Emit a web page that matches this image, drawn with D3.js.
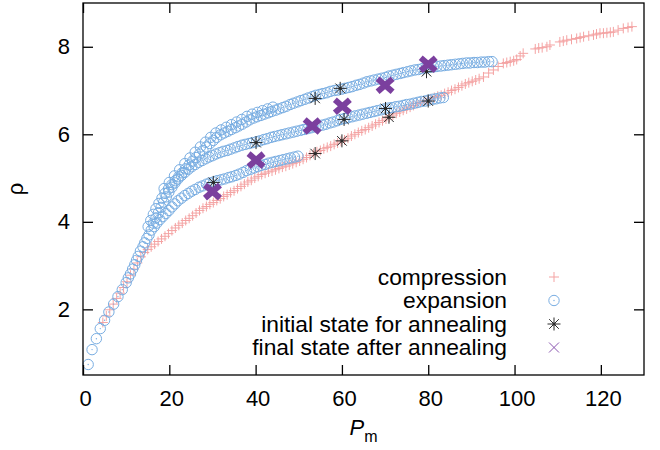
<!DOCTYPE html>
<html>
<head>
<meta charset="utf-8">
<script src="https://cdn.jsdelivr.net/npm/d3@7"></script>
<style>
  body { margin: 0; background: #fff; }
  text { font-family: "Liberation Sans", Arial, Helvetica, sans-serif; }
</style>
</head>
<body>
<div id="chart"></div>
<script>
// [Pm, rho] pairs
const compression = [
  [4.6,1.70],[5.4,1.85],[6.2,1.99],[7.0,2.12],[7.8,2.25],[8.6,2.37],[9.4,2.50],[10.2,2.63],[11.0,2.78],
  [11.8,2.92],[12.6,3.06],[13.4,3.20],[14.2,3.30],[15.0,3.37],[15.8,3.43],[16.6,3.49],[17.4,3.55],[18.2,3.61],
  [19.0,3.67],[19.8,3.73],[20.6,3.80],[21.4,3.86],[22.2,3.92],[23.0,3.97],[23.8,4.03],[24.6,4.08],[25.4,4.14],
  [26.2,4.20],[27.0,4.26],[27.8,4.31],[28.6,4.35],[29.4,4.40],[30.2,4.44],[31.0,4.49],[31.8,4.53],[32.6,4.58],
  [33.4,4.62],[34.2,4.67],[35.0,4.71],[35.8,4.76],[36.6,4.81],[37.4,4.86],[38.2,4.91],[39.0,4.95],[39.8,5.00],
  [40.6,5.04],[41.4,5.08],[42.2,5.11],[43.0,5.14],[43.8,5.16],[44.6,5.19],[45.4,5.22],[46.2,5.25],[47.0,5.27],
  [47.8,5.30],[48.6,5.33],[49.4,5.36],[50.2,5.39],[51.0,5.43],[51.8,5.47],[52.6,5.52],[53.4,5.56],[54.2,5.60],
  [55.0,5.63],[55.8,5.67],[56.6,5.70],[57.4,5.73],[58.2,5.77],[59.0,5.80],[59.8,5.84],[60.6,5.87],[61.4,5.91],
  [62.2,5.96],[63.0,6.00],[63.8,6.04],[64.6,6.08],[65.4,6.11],[66.2,6.15],[67.0,6.19],[67.8,6.23],[68.6,6.27],
  [69.4,6.31],[70.2,6.35],[71.0,6.39],[71.8,6.44],[72.6,6.48],[73.4,6.51],[74.2,6.55],[75.0,6.58],[75.8,6.62],
  [76.6,6.66],[77.4,6.70],[78.2,6.73],[79.0,6.76],[79.8,6.78],[80.6,6.81],[81.4,6.84],[82.2,6.87],[83.0,6.89],
  [83.8,6.93],[84.6,6.96],[85.4,7.00],[86.2,7.03],[87.0,7.07],[87.8,7.11],[88.6,7.15],[89.4,7.18],[90.2,7.21],
  [91.0,7.24],[91.8,7.27],[92.8,7.31],[94.0,7.40],[95.1,7.47],[96.2,7.55],[97.4,7.62],[98.2,7.64],[99.0,7.66],
  [99.8,7.68],[100.5,7.71],[101.3,7.79],[102.0,7.85],[104.8,7.95],[105.6,7.97],[106.4,7.98],[107.5,8.00],
  [108.2,8.04],[110.5,8.11],[111.3,8.13],[112.1,8.15],[113.2,8.17],[114.4,8.19],[115.2,8.21],[116.0,8.23],
  [117.2,8.25],[118.3,8.27],[119.0,8.29],[119.8,8.31],[120.6,8.31],[121.4,8.32],[122.2,8.33],[122.9,8.34],
  [124.0,8.38],[125.2,8.42],[126.3,8.44],[127.2,8.46]
];

const expansionUpper = [
  [94.8,7.66],[94.0,7.66],[93.1,7.65],[92.3,7.65],[91.4,7.64],[90.6,7.64],[89.7,7.63],[88.9,7.63],[88.0,7.62],
  [87.2,7.61],[86.3,7.60],[85.4,7.59],[84.6,7.58],[83.7,7.57],[82.9,7.56],[82.0,7.55],[81.2,7.54],[80.3,7.53],
  [79.5,7.52],[78.6,7.50],[77.7,7.48],[76.9,7.47],[76.0,7.45],[75.2,7.43],[74.3,7.41],[73.5,7.39],[72.6,7.37],
  [71.8,7.35],[70.9,7.33],[70.1,7.30],[69.2,7.28],[68.4,7.26],[67.5,7.24],[66.7,7.22],[65.8,7.20],[65.0,7.17],
  [64.1,7.14],[63.3,7.12],[62.4,7.09],[61.6,7.07],[60.7,7.05],[59.9,7.03],[59.0,7.01],[58.2,7.00],[57.3,6.98],
  [56.5,6.95],[55.6,6.93],[54.8,6.91],[53.9,6.89],[53.1,6.86],[52.2,6.83],[51.4,6.80],[50.5,6.77],[49.7,6.74],
  [48.8,6.71],[48.0,6.68],[47.1,6.64],[46.3,6.61],[45.4,6.58],[44.6,6.55],[43.7,6.52],[42.9,6.49],[42.0,6.46],
  [41.2,6.43],[40.3,6.40],[39.5,6.37],[38.6,6.33],[37.8,6.28],[36.9,6.23],[36.1,6.19],[35.3,6.15],[34.4,6.11],
  [33.6,6.07],[32.7,6.03],[31.9,5.99],[31.0,5.93],[30.2,5.86],[29.4,5.79],[28.6,5.71],[27.8,5.63],[27.0,5.55],
  [26.2,5.47],[25.4,5.39],[24.6,5.30],[23.8,5.21],[23.0,5.12],[22.2,5.03],[21.4,4.94],[20.6,4.85],[19.8,4.75],
  [19.0,4.65],[18.3,4.54],[17.6,4.42],[16.9,4.30],[16.3,4.17],[15.7,4.03],[15.1,3.89],
  [44.0,6.62],[42.8,6.58],[41.6,6.54],[40.4,6.50],[39.2,6.46],[38.0,6.41],[36.8,6.34],[35.6,6.28],[34.4,6.22],
  [33.2,6.16],[32.0,6.10],[30.8,6.03],[29.6,5.93],[28.4,5.82],[27.2,5.71],[26.0,5.59],[24.8,5.46],[23.6,5.33],
  [22.4,5.19],[21.2,5.05],[20.0,4.90],[18.8,4.76]
];

const expansionMiddle = [
  [83.5,6.84],[82.7,6.83],[81.8,6.81],[81.0,6.80],[80.1,6.78],[79.3,6.76],[78.4,6.75],[77.6,6.73],[76.7,6.71],
  [75.9,6.69],[75.0,6.68],[74.2,6.66],[73.3,6.64],[72.5,6.63],[71.6,6.61],[70.8,6.60],[69.9,6.58],[69.1,6.56],
  [68.2,6.54],[67.4,6.52],[66.5,6.50],[65.7,6.48],[64.8,6.46],[64.0,6.44],[63.1,6.42],[62.3,6.40],[61.4,6.38],
  [60.6,6.36],[59.7,6.34],[58.9,6.31],[58.0,6.28],[57.2,6.26],[56.3,6.23],[55.5,6.21],[54.6,6.19],[53.8,6.17],
  [52.9,6.15],[52.1,6.13],[51.2,6.11],[50.4,6.09],[49.5,6.07],[48.7,6.05],[47.8,6.03],[47.0,6.01],[46.1,5.99],
  [45.3,5.97],[44.4,5.95],[43.6,5.93],[42.7,5.90],[41.9,5.88],[41.0,5.85],[40.2,5.83],[39.3,5.81],[38.5,5.79],
  [37.6,5.77],[36.8,5.75],[35.9,5.72],[35.1,5.69],[34.2,5.66],[33.4,5.63],[32.5,5.61],[31.7,5.58],[30.8,5.55],
  [30.0,5.51],[29.2,5.48],[28.4,5.44],[27.6,5.40],[26.8,5.36],[26.0,5.31],[25.2,5.26],[24.4,5.20],[23.6,5.13],
  [22.8,5.06],[22.0,4.98],[21.3,4.89],[20.6,4.79],[19.9,4.68],[19.3,4.57],[18.7,4.45],[18.1,4.33],[17.5,4.21],
  [16.9,4.09],[16.3,3.97]
];

const expansionLower = [
  [49.8,5.50],[49.0,5.48],[48.1,5.46],[47.3,5.44],[46.4,5.42],[45.6,5.40],[44.7,5.38],[43.9,5.36],[43.0,5.34],
  [42.2,5.31],[41.3,5.29],[40.5,5.26],[39.6,5.23],[38.8,5.20],[37.9,5.17],[37.1,5.13],[36.2,5.09],[35.4,5.06],
  [34.5,5.03],[33.7,5.01],[32.8,4.98],[32.0,4.96],[31.1,4.94],[30.3,4.91],[29.4,4.89],[28.6,4.86],[27.7,4.82],
  [26.9,4.79],[26.0,4.74],[25.2,4.70],[24.4,4.65],[23.6,4.60],[22.8,4.54],[22.0,4.48],[21.3,4.41],[20.6,4.34],
  [19.9,4.26],[19.2,4.19],[18.5,4.12],[17.8,4.05],[17.1,3.97],[16.5,3.89]
];

const expansionLow = [
  [15.8,3.81],[15.3,3.70],[14.8,3.62],[14.3,3.52],[13.9,3.43],[13.3,3.33],[12.8,3.21],[12.4,3.12],[12.0,3.02],
  [11.5,2.92],[11.0,2.81],[10.5,2.72],[10.0,2.61],[9.1,2.45],[8.1,2.29],[7.1,2.12],[6.0,1.94],[5.0,1.75],
  [4.0,1.56],[3.1,1.33],[2.1,1.08],[1.2,0.74]
];

const expansion = expansionUpper.concat(expansionMiddle, expansionLower, expansionLow);

const initialState = [
  [30.2,4.90],[40.1,5.81],[53.8,5.56],[53.8,6.82],[59.6,7.05],[60.0,5.85],
  [60.5,6.34],[70.1,6.59],[70.9,6.39],[80.0,6.76],[79.6,7.43]
];

const finalState = [
  [30.0,4.69],[40.1,5.41],[53.1,6.19],[60.1,6.64],[70.0,7.12],[80.0,7.60]
];

const xTicks = [0, 20, 40, 60, 80, 100, 120];
const yTicks = [2, 4, 6, 8];
const legendLabels = ['compression', 'expansion', 'initial state for annealing', 'final state after annealing'];

const width = 660;
const height = 450;
const margin = {top: 3, right: 16, bottom: 75, left: 83};

const pink = '#f4a3a3';
const blue = '#78ade2';
const dark = '#2a2a2a';
const purple = '#7b3f9e';

const svg = d3.select('#chart')
  .append('svg')
  .attr('width', width)
  .attr('height', height);

const x = d3.scaleLinear()
  .domain([0, 130])
  .range([margin.left, width - margin.right]);

const y = d3.scaleLinear()
  .domain([0.5, 9])
  .range([height - margin.bottom, margin.top]);

// marker shapes
function drawPlus(g, s) {
  g.append('line').attr('x1', -s).attr('x2', s).attr('y1', 0).attr('y2', 0);
  g.append('line').attr('x1', 0).attr('x2', 0).attr('y1', -s).attr('y2', s);
}
function drawCross(g, s) {
  g.append('line').attr('x1', -s).attr('x2', s).attr('y1', -s).attr('y2', s);
  g.append('line').attr('x1', -s).attr('x2', s).attr('y1', s).attr('y2', -s);
}
function drawCircle(g) {
  g.append('circle').attr('r', 5.2).attr('fill', 'none');
  g.append('circle').attr('r', 0.7).attr('fill', blue).attr('stroke', 'none');
}
function drawStar(g) {
  drawPlus(g, 6.5);
  drawCross(g, 4.8);
  g.append('circle').attr('r', 1.6).attr('fill', dark).attr('stroke', 'none');
}

svg.append('g')
  .attr('stroke', pink)
  .attr('stroke-width', 1)
  .selectAll('g')
  .data(compression)
  .join('g')
    .attr('transform', d => `translate(${x(d[0])},${y(d[1])})`)
    .each(function() { drawPlus(d3.select(this), 5); });

svg.append('g')
  .attr('stroke', blue)
  .attr('stroke-width', 1)
  .selectAll('g')
  .data(expansion)
  .join('g')
    .attr('transform', d => `translate(${x(d[0])},${y(d[1])})`)
    .each(function() { drawCircle(d3.select(this)); });

svg.append('g')
  .attr('stroke', dark)
  .attr('stroke-width', 1)
  .selectAll('g')
  .data(initialState)
  .join('g')
    .attr('transform', d => `translate(${x(d[0])},${y(d[1])})`)
    .each(function() { drawStar(d3.select(this)); });

svg.append('g')
  .attr('stroke', purple)
  .attr('stroke-width', 6)
  .selectAll('g')
  .data(finalState)
  .join('g')
    .attr('transform', d => `translate(${x(d[0])},${y(d[1])})`)
    .each(function() {
      const g = d3.select(this);
      g.append('line').attr('x1', -7.5).attr('x2', 7.5).attr('y1', -6.5).attr('y2', 6.5);
      g.append('line').attr('x1', -7.5).attr('x2', 7.5).attr('y1', 6.5).attr('y2', -6.5);
    });

// axes, ticks pointing inwards on all four sides
const fontSize = 22;

function xAxis(g) {
  g.attr('transform', `translate(0,${height - margin.bottom})`)
    .call(d3.axisBottom(x).tickValues(xTicks).tickSizeInner(-10).tickSizeOuter(0).tickPadding(15))
    .attr('font-size', fontSize)
    .attr('font-family', null);
  g.select('.domain').remove();
  g.selectAll('text').attr('fill', '#000').attr('dx', 2);
}

function yAxis(g) {
  g.attr('transform', `translate(${margin.left},0)`)
    .call(d3.axisLeft(y).tickValues(yTicks).tickSizeInner(-10).tickSizeOuter(0).tickPadding(13))
    .attr('font-size', fontSize)
    .attr('font-family', null);
  g.select('.domain').remove();
  g.selectAll('text').attr('fill', '#000');
}

svg.append('g').call(xAxis);
svg.append('g').call(yAxis);

svg.append('g')
  .attr('transform', `translate(0,${margin.top})`)
  .call(d3.axisTop(x).tickValues(xTicks).tickSizeInner(-10).tickSizeOuter(0).tickFormat(''))
  .call(g => g.select('.domain').remove());

svg.append('g')
  .attr('transform', `translate(${width - margin.right},0)`)
  .call(d3.axisRight(y).tickValues(yTicks).tickSizeInner(-10).tickSizeOuter(0).tickFormat(''))
  .call(g => g.select('.domain').remove());

svg.selectAll('.tick line').attr('stroke', '#000').attr('stroke-width', 1.3);

svg.append('rect')
  .attr('x', margin.left)
  .attr('y', margin.top)
  .attr('width', width - margin.right - margin.left)
  .attr('height', height - margin.bottom - margin.top)
  .attr('fill', 'none')
  .attr('stroke', '#000')
  .attr('stroke-width', 1.3);

// axis labels
const xLabel = svg.append('text')
  .attr('x', (margin.left + width - margin.right) / 2)
  .attr('y', 435)
  .attr('text-anchor', 'middle')
  .attr('font-size', fontSize);
xLabel.append('tspan').attr('font-style', 'italic').text('P');
xLabel.append('tspan').attr('font-size', 16).attr('dy', 7).text('m');

svg.append('text')
  .attr('transform', `translate(23,${(margin.top + height - margin.bottom) / 2}) rotate(-90)`)
  .attr('text-anchor', 'middle')
  .attr('font-size', fontSize)
  .text('ρ');

// legend
const legend = svg.append('g')
  .selectAll('g')
  .data(legendLabels)
  .join('g')
    .attr('transform', (d, i) => `translate(0,${277 + i * 23.5})`);

legend.append('text')
  .attr('x', 507)
  .attr('y', 7.5)
  .attr('text-anchor', 'end')
  .attr('font-size', 22.8)
  .text(d => d);

legend.each(function(d, i) {
  const g = d3.select(this).append('g').attr('transform', 'translate(554,0)');
  if (i === 0) { g.attr('stroke', pink); drawPlus(g, 5); }
  if (i === 1) { g.attr('stroke', blue); drawCircle(g); }
  if (i === 2) { g.attr('stroke', dark); drawStar(g); }
  if (i === 3) { g.attr('stroke', '#8a55b0'); drawCross(g, 5); }
});
</script>
</body>
</html>
